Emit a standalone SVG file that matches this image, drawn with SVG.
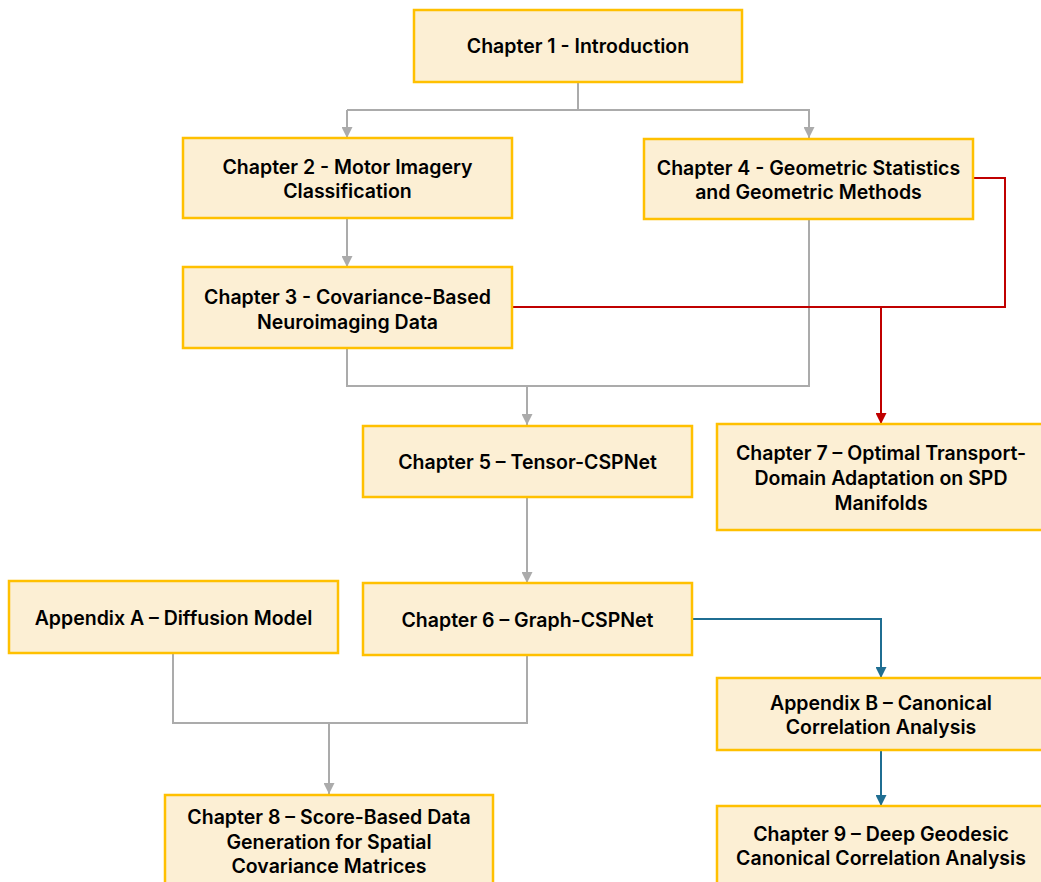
<svg xmlns="http://www.w3.org/2000/svg" width="1041" height="882" viewBox="0 0 1041 882">
<defs>
<style>
.box{fill:#FCEFD4;stroke:#FFC000;stroke-width:2.5}
.t{font-family:Inter,"Liberation Sans",Arial,sans-serif;font-weight:600;font-size:19.5px;fill:#000;text-anchor:middle}
.g{fill:none;stroke:#ABABAB;stroke-width:2}
.r{fill:none;stroke:#C00000;stroke-width:2}
.b{fill:none;stroke:#1F6E92;stroke-width:2}
</style>
<marker id="mg" viewBox="0 0 10 10" refX="10" refY="5" markerWidth="11" markerHeight="11" markerUnits="userSpaceOnUse" orient="auto"><path d="M0,0 L10,5 L0,10 Z" fill="#ABABAB"/></marker>
<marker id="mr" viewBox="0 0 10 10" refX="10" refY="5" markerWidth="11" markerHeight="11" markerUnits="userSpaceOnUse" orient="auto"><path d="M0,0 L10,5 L0,10 Z" fill="#C00000"/></marker>
<marker id="mb" viewBox="0 0 10 10" refX="10" refY="5" markerWidth="11" markerHeight="11" markerUnits="userSpaceOnUse" orient="auto"><path d="M0,0 L10,5 L0,10 Z" fill="#1F6E92"/></marker>
</defs>
<rect width="1041" height="882" fill="#fff"/>
<g id="connectors">
<path class="g" d="M578,82 V110 H347"/>
<path class="g" d="M347,110 V138" marker-end="url(#mg)"/>
<path class="g" d="M578,110 H809 V138" marker-end="url(#mg)"/>
<path class="g" d="M347,218 V267" marker-end="url(#mg)"/>
<path class="g" d="M347,348 V386 H809 V219"/>
<path class="g" d="M527,386 V425" marker-end="url(#mg)"/>
<path class="g" d="M527,497 V583" marker-end="url(#mg)"/>
<path class="g" d="M173,653 V723 H527 V655"/>
<path class="g" d="M329,723 V794" marker-end="url(#mg)"/>
<path class="r" d="M973,178 H1005 V307 H512"/>
<path class="r" d="M881,307 V424" marker-end="url(#mr)"/>
<path class="b" d="M692,619 H881 V678" marker-end="url(#mb)"/>
<path class="b" d="M881,750 V806" marker-end="url(#mb)"/>
</g>
<g id="ch1"><rect class="box" x="414" y="10" width="328" height="72"/><text class="t" x="578" y="53">Chapter 1 - Introduction</text></g>
<g id="ch2"><rect class="box" x="183" y="138" width="329" height="80"/><text class="t" x="347.5" y="174">Chapter 2 - Motor Imagery</text><text class="t" x="347.5" y="198">Classification</text></g>
<g id="ch3"><rect class="box" x="183" y="267" width="329" height="81"/><text class="t" x="347.5" y="304">Chapter 3 - Covariance-Based</text><text class="t" x="347.5" y="329">Neuroimaging Data</text></g>
<g id="ch4"><rect class="box" x="644" y="139" width="329" height="80"/><text class="t" x="808.5" y="175">Chapter 4 - Geometric Statistics</text><text class="t" x="808.5" y="199">and Geometric Methods</text></g>
<g id="ch5"><rect class="box" x="363" y="426" width="329" height="71"/><text class="t" x="527.5" y="469">Chapter 5 – Tensor-CSPNet</text></g>
<g id="ch7"><rect class="box" x="717" y="424" width="330" height="106"/><text class="t" x="881" y="460">Chapter 7 – Optimal Transport-</text><text class="t" x="881" y="485">Domain Adaptation on SPD</text><text class="t" x="881" y="510">Manifolds</text></g>
<g id="appA"><rect class="box" x="9" y="581" width="329" height="72"/><text class="t" x="173.5" y="625">Appendix A – Diffusion Model</text></g>
<g id="ch6"><rect class="box" x="363" y="583" width="329" height="72"/><text class="t" x="527.5" y="627">Chapter 6 – Graph-CSPNet</text></g>
<g id="appB"><rect class="box" x="717" y="678" width="330" height="72"/><text class="t" x="881" y="710">Appendix B – Canonical</text><text class="t" x="881" y="734">Correlation Analysis</text></g>
<g id="ch8"><rect class="box" x="165" y="795" width="328" height="100"/><text class="t" x="329" y="824">Chapter 8 – Score-Based Data</text><text class="t" x="329" y="849">Generation for Spatial</text><text class="t" x="329" y="873">Covariance Matrices</text></g>
<g id="ch9"><rect class="box" x="717" y="806" width="330" height="90"/><text class="t" x="881" y="841">Chapter 9 – Deep Geodesic</text><text class="t" x="881" y="865">Canonical Correlation Analysis</text></g>
</svg>
